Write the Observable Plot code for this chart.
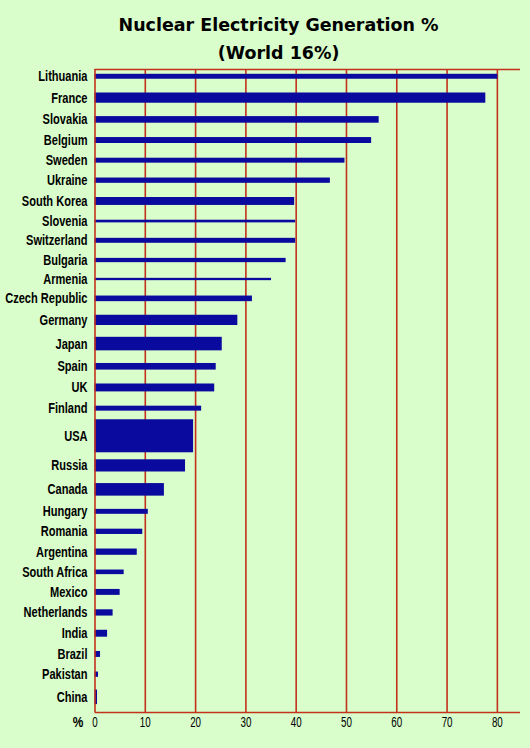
<!DOCTYPE html>
<html><head><meta charset="utf-8">
<script src="https://cdn.jsdelivr.net/npm/d3@7"></script>
<script src="https://cdn.jsdelivr.net/npm/@observablehq/plot@0.6"></script>
<style>
html,body{margin:0;padding:0;background:#d9fdcb;}
body{width:530px;height:748px;overflow:hidden;position:relative;}
#title{position:absolute;left:0;top:11px;width:558px;text-align:center;font:bold 18.3px "DejaVu Sans",Verdana,sans-serif;color:#000;line-height:28px;white-space:nowrap;}
#title span{display:inline-block;transform:scaleX(0.955);transform-origin:center;}
#chart{position:absolute;left:0;top:62px;}
#chart svg{display:block;}
</style></head><body>
<div id="title"><span>Nuclear Electricity Generation %</span><br><span>(World 16%)</span></div>
<div id="chart"></div>
<script>
// Countries, nuclear share of electricity generation (%), and relative bar weight (USA = 100)
const countries = ["Lithuania","France","Slovakia","Belgium","Sweden","Ukraine","South Korea","Slovenia","Switzerland","Bulgaria","Armenia","Czech Republic","Germany","Japan","Spain","UK","Finland","USA","Russia","Canada","Hungary","Romania","Argentina","South Africa","Mexico","Netherlands","India","Brazil","Pakistan","China"];
const share = [80.1,77.7,56.5,55.0,49.7,46.8,39.7,39.9,39.9,38.0,35.1,31.3,28.4,25.3,24.1,23.8,21.2,19.6,18.0,13.8,10.6,9.5,8.4,5.8,5.0,3.6,2.5,1.1,0.7,0.5];
const weight = [15,31,20,18,15,16,24,8,15,13,7,17,31,41,20,24,15,100,37,38,15,16,19,14,18,19,21,18,16,44];
const xTicks = [0,10,20,30,40,50,60,70,80];

// row layout: each row is a base gap plus a share of its bar weight
const rowGap = 52, rowK = 0.55;
let acc = 0;
const rows = countries.map((c, i) => {
  if (i > 0) acc += rowGap + rowK * (weight[i - 1] + weight[i]) / 2;
  return {country: c, share: share[i], weight: weight[i], center: acc};
});
const yTop = -22, yBottom = acc + weight[weight.length - 1] / 2 + 24;

const red = "#c4321c", blue = "#0a0a9f";
const labelFont = "'Liberation Sans',Arial,sans-serif";

const chart = Plot.plot({
  width: 530,
  height: 686,
  marginTop: 7,
  marginBottom: 36,
  marginLeft: 94.5,
  marginRight: 10,
  style: {background: "transparent", overflow: "visible"},
  x: {domain: [0, 84.6], axis: null},
  y: {domain: [yTop, yBottom], reverse: true, axis: null},
  marks: [
    Plot.ruleX(xTicks.slice(1), {stroke: red, strokeWidth: 1.6}),
    Plot.rect(rows, {x1: 0, x2: "share", y1: d => d.center - d.weight / 2, y2: d => d.center + d.weight / 2, fill: blue}),
    Plot.ruleY([yTop, yBottom], {stroke: red, strokeWidth: 1.6}),
    Plot.ruleX([0], {stroke: red, strokeWidth: 1.6}),
    Plot.text(rows, {x: 0, y: "center", text: "country", textAnchor: "end", dx: -7.5, fill: "#000", fontFamily: labelFont, fontWeight: "bold", fontSize: 14, className: "ylab"}),
    Plot.text(xTicks, {x: d => d, frameAnchor: "bottom", lineAnchor: "middle", dy: 10.5, text: d => String(d), fill: "#000", fontFamily: labelFont, fontSize: 14, className: "xlab"}),
    Plot.text(["%"], {x: () => 0, frameAnchor: "bottom", lineAnchor: "middle", dx: -17, dy: 10.5, text: d => d, fill: "#000", fontFamily: labelFont, fontWeight: "bold", fontSize: 14, className: "pct"})
  ]
});
document.getElementById("chart").appendChild(chart);

// condense the label lettering horizontally, as in the reference
function condense(sel, k) {
  chart.querySelectorAll(sel).forEach(t => {
    const w = t.getComputedTextLength();
    if (w > 0) {
      t.setAttribute("textLength", (w * k).toFixed(2));
      t.setAttribute("lengthAdjust", "spacingAndGlyphs");
    }
  });
}
condense(".ylab text", 0.79);
condense(".xlab text", 0.7);
condense(".pct text", 0.85);
</script>
</body></html>
